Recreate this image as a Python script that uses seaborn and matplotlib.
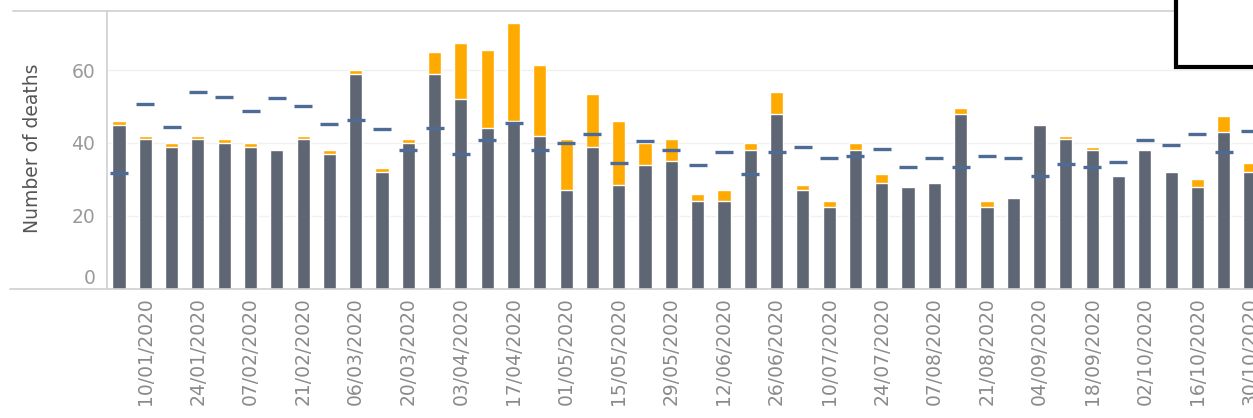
import matplotlib
matplotlib.use("Agg")
import matplotlib.pyplot as plt
import matplotlib.transforms as mtransforms
from matplotlib.lines import Line2D
from matplotlib.patches import Rectangle
import seaborn as sns
import pandas as pd
import numpy as np

weeks = ["03/01/2020", "10/01/2020", "17/01/2020", "24/01/2020", "31/01/2020",
         "07/02/2020", "14/02/2020", "21/02/2020", "28/02/2020", "06/03/2020",
         "13/03/2020", "20/03/2020", "27/03/2020", "03/04/2020", "10/04/2020",
         "17/04/2020", "24/04/2020", "01/05/2020", "08/05/2020", "15/05/2020",
         "22/05/2020", "29/05/2020", "05/06/2020", "12/06/2020", "19/06/2020",
         "26/06/2020", "03/07/2020", "10/07/2020", "17/07/2020", "24/07/2020",
         "31/07/2020", "07/08/2020", "14/08/2020", "21/08/2020", "28/08/2020",
         "04/09/2020", "11/09/2020", "18/09/2020", "25/09/2020", "02/10/2020",
         "09/10/2020", "16/10/2020", "23/10/2020", "30/10/2020"]

other_deaths = [45, 41, 39, 41, 40, 39, 38, 41, 37, 59,
                32, 40, 59, 52, 44, 46, 42, 27, 39, 28.5,
                34, 35, 24, 24, 38, 48, 27, 22.5, 38, 29,
                28, 29, 48, 22.5, 25, 45, 41, 38, 31, 38,
                32, 28, 43, 32]

covid_deaths = [1, 1, 1, 1, 1, 1, 0, 1, 1, 1,
                1, 1, 6, 15.5, 21.5, 27, 19.5, 14, 14.5, 17.5,
                6, 6, 2, 3, 2, 6, 1.5, 1.5, 2, 2.5,
                0, 0, 1.5, 1.5, 0, 0, 1, 1, 0, 0,
                0, 2, 4.5, 2.5]

five_year_avg = [31.6, 50.8, 44.4, 53.9, 52.7, 48.8, 52.3, 50.2, 45.2, 46.3,
                 43.9, 38.0, 44.0, 37.0, 40.8, 45.6, 38.0, 39.9, 42.4, 34.5,
                 40.4, 38.0, 33.9, 37.4, 31.4, 37.4, 38.8, 35.9, 36.4, 38.3,
                 33.5, 35.9, 33.5, 36.5, 35.9, 30.9, 34.1, 33.5, 34.8, 40.8,
                 39.4, 42.4, 37.4, 43.4]

tick_labels = weeks[1::2]

GRAY = "#5f6673"
ORANGE = "#ffaa00"
DASH = "#4d6b94"
LINE = "#cfcfcf"

df = pd.DataFrame({
    "week": weeks,
    "other": other_deaths,
    "covid": covid_deaths,
    "avg": five_year_avg,
})
df["total"] = df["other"] + df["covid"]

sns.set_theme(style="white")
plt.rcParams["font.family"] = ["DejaVu Sans"]

W, H = 1253, 418
fig = plt.figure(figsize=(W / 100, H / 100), dpi=100)
left_px, right_px, top_px, base_px = 107, 1253, 11, 288.5
ax = fig.add_axes([left_px / W, (H - base_px) / H,
                   (right_px - left_px) / W, (base_px - top_px) / H])

sns.barplot(data=df, x="week", y="total", order=weeks, color=ORANGE,
            width=0.5, saturation=1, ax=ax, zorder=2)
sns.barplot(data=df, x="week", y="other", order=weeks, color=GRAY,
            width=0.5, saturation=1, ax=ax, zorder=3)
sns.pointplot(data=df, x="week", y="avg", order=weeks, color=DASH,
              markers="_", linestyles="none", errorbar=None, ax=ax,
              markersize=13, markeredgewidth=2.4, zorder=4)

spacing = 26.33
ax.set_xlim(-(119 - left_px) / spacing, 43 + (right_px - 1250) / spacing)
ax.set_ylim(0, (base_px - top_px) / 3.64)

for s in ax.spines.values():
    s.set_visible(False)

ax.set_yticks([0, 20, 40, 60])
ax.set_yticklabels(["0", "20", "40", "60"])
ax.yaxis.grid(True, color="#f1f1f1", linewidth=1, zorder=0)
ax.xaxis.grid(False)
ax.set_axisbelow(True)
ax.tick_params(axis="y", length=0, pad=8.5, labelsize=13.5, labelcolor="#9a9a9a")
zero_lbl = ax.get_yticklabels()[0]
zero_lbl.set_transform(zero_lbl.get_transform() +
                       mtransforms.ScaledTranslation(0, 9 / 72, fig.dpi_scale_trans))

tick_pos = list(range(1, len(weeks), 2))
ax.set_xticks(tick_pos)
ax.set_xticklabels(tick_labels, rotation=90, ha="center", va="top")
ax.tick_params(axis="x", length=0, pad=6, labelsize=13.5, labelcolor="#8a8a8a")

ax.set_xlabel("")
ax.set_ylabel("Number of deaths", fontsize=13.5, color="#555555")
ax.yaxis.set_label_coords((42 - left_px) / (right_px - left_px), 0.505)

# frame lines in figure pixels
def fx(px):
    return px / W

def fy(py):
    return (H - py) / H

fig.add_artist(Line2D([fx(10), 1], [fy(base_px), fy(base_px)], color=LINE, lw=1.2))
fig.add_artist(Line2D([fx(13), 1], [fy(top_px), fy(top_px)], color=LINE, lw=1.2))
fig.add_artist(Line2D([fx(left_px), fx(left_px)], [fy(top_px), fy(base_px)], color=LINE, lw=1.2))

# partially visible legend frame at the top right
fig.add_artist(Rectangle((fx(1176), fy(66.5)), fx(1300) - fx(1176), fy(-20) - fy(66.5),
                         facecolor="white", edgecolor="black", linewidth=3,
                         transform=fig.transFigure, zorder=10))

fig.savefig("out.png", dpi=100)
